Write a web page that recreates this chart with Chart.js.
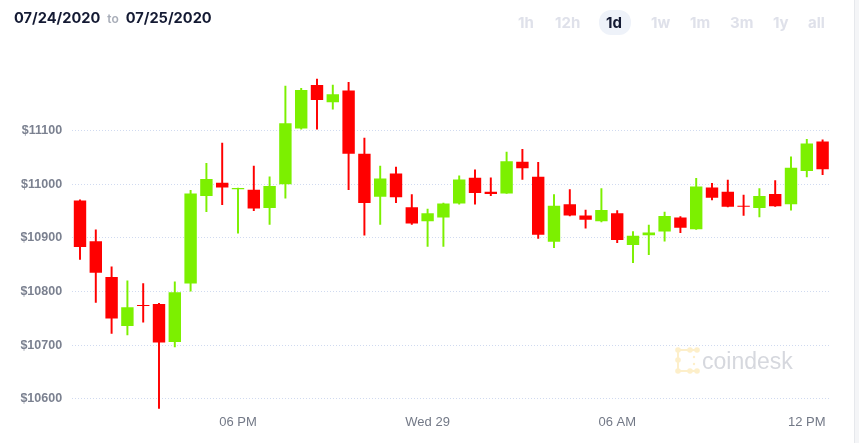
<!DOCTYPE html>
<html>
<head>
<meta charset="utf-8">
<script src="https://cdn.jsdelivr.net/npm/chart.js@4/dist/chart.umd.min.js"></script>
<style>
  html, body { margin: 0; padding: 0; background: #fff; }
  #wrap { position: relative; width: 859px; height: 443px; overflow: hidden; }
  #c { position: absolute; left: 0; top: 0; }
  .hdr { position: absolute; left: 14px; top: 9px; font-family: Inter, sans-serif; font-weight: 700; font-size: 14.6px; color: #141a33; white-space: nowrap; }
  .hdr .to { font-size: 12px; font-weight: 600; color: #a8adb8; margin: 0 7px 0 7px; }
  .btn { position: absolute; top: 14px; font-family: Inter, sans-serif; font-weight: 700; font-size: 15px; color: #dfe1ea; line-height: 18px; }
  .btn.sel { color: #141a33; }
  .pill { position: absolute; left: 599px; top: 10px; width: 32px; height: 25px; border-radius: 12px; background: #eef2f9; }
  .edge { position: absolute; left: 854px; top: 0; width: 5px; height: 443px; background: #f4f5f7; border-left: 1px solid #e6e8ec; }
</style>
</head>
<body>
<div id="wrap">
  <canvas id="c" width="859" height="443"></canvas>
  <div class="hdr">07/24/2020<span class="to">to</span>07/25/2020</div>
  <div class="pill"></div>
  <div class="btn" style="left:518px">1h</div>
  <div class="btn" style="left:555px">12h</div>
  <div class="btn sel" style="left:606px">1d</div>
  <div class="btn" style="left:651px">1w</div>
  <div class="btn" style="left:690px">1m</div>
  <div class="btn" style="left:730px">3m</div>
  <div class="btn" style="left:773px">1y</div>
  <div class="btn" style="left:808px">all</div>
  <div class="edge"></div>
</div>
<script>
// ---- data ----
const categories = [
  '13:00','13:30','14:00','14:30','15:00','15:30','16:00','16:30','17:00','17:30',
  '18:00','18:30','19:00','19:30','20:00','20:30','21:00','21:30','22:00','22:30',
  '23:00','23:30','00:00','00:30','01:00','01:30','02:00','02:30','03:00','03:30',
  '04:00','04:30','05:00','05:30','06:00','06:30','07:00','07:30','08:00','08:30',
  '09:00','09:30','10:00','10:30','11:00','11:30','12:00','12:30'
];
const openPrices = [
  10970,10894,10827,10736,10775,10777,10706,10815,10978,11003,
  10991,10990,10956,11000,11104,11185,11153,11175,11057,10977,
  11020,10957,10931,10938,10964,11012,10986,10983,11042,11014,
  10893,10963,10942,10931,10946,10887,10905,10912,10938,10916,
  10994,10986,10959,10956,10982,10963,11025,11080
];
const highPrices = [
  10971,10915,10846,10820,10815,10778,10818,10989,11039,11077,
  10993,11034,11014,11183,11179,11196,11185,11190,11086,11034,
  11032,10981,10954,10965,11016,11027,11012,11060,11065,11041,
  10981,10990,10952,10992,10951,10912,10924,10948,10940,11011,
  11002,11008,10980,10992,11007,11051,11084,11083
];
const lowPrices = [
  10860,10780,10722,10719,10743,10582,10697,10801,10949,10962,
  10909,10951,10925,10974,11103,11103,11140,10990,10905,10925,
  10966,10925,10884,10884,10963,10963,10979,10983,11009,10899,
  10882,10941,10918,10930,10891,10854,10869,10894,10910,10916,
  10971,10958,10942,10939,10959,10952,11014,11018
];
const closePrices = [
  10883,10835,10750,10771,10773,10705,10799,10983,11010,10994,
  10993,10955,10997,11114,11176,11157,11168,11057,10965,11011,
  10976,10927,10946,10964,11009,10984,10982,11043,11030,10906,
  10960,10942,10934,10952,10896,10904,10910,10941,10919,10996,
  10975,10958,10958,10978,10959,11031,11076,11028
];
const xTickAt = ['18:00','00:00','06:00','12:00'];
const xTickText = ['06 PM','Wed 29','06 AM','12 PM'];
const yTicks = [10600,10700,10800,10900,11000,11100];

// ---- styling ----
const UP = 'rgb(124,240,0)';
const DOWN = 'rgb(255,0,0)';
const colors = categories.map((_, i) => closePrices[i] >= openPrices[i] ? UP : DOWN);
const bodies = categories.map((_, i) => [openPrices[i], closePrices[i]]);
const wicks = categories.map((_, i) => [lowPrices[i], highPrices[i]]);

const watermark = {
  id: 'watermark',
  beforeDatasetsDraw(chart) {
    const ctx = chart.ctx;
    ctx.save();
    ctx.strokeStyle = '#fdefca';
    ctx.fillStyle = '#fdefca';
    ctx.lineWidth = 2;
    ctx.beginPath();
    ctx.moveTo(697, 350); ctx.lineTo(678, 350); ctx.lineTo(678, 371); ctx.lineTo(697, 371);
    ctx.stroke();
    [[678,350],[690,350],[697,350],[678,360],[678,371],[690,371],[697,371]].forEach(p => {
      ctx.beginPath(); ctx.arc(p[0], p[1], 2.8, 0, Math.PI * 2); ctx.fill();
    });
    [[694,357],[694,364]].forEach(p => {
      ctx.beginPath(); ctx.arc(p[0], p[1], 1.2, 0, Math.PI * 2); ctx.fill();
    });
    ctx.fillStyle = '#d6d8de';
    ctx.font = '23px "Liberation Sans", Arial, sans-serif';
    ctx.textBaseline = 'alphabetic';
    ctx.fillText('coindesk', 702, 369);
    ctx.restore();
  }
};

new Chart(document.getElementById('c'), {
  type: 'bar',
  data: {
    labels: categories,
    datasets: [
      {
        label: 'wick',
        data: wicks,
        backgroundColor: colors,
        barThickness: 1.3,
        grouped: false,
        order: 2
      },
      {
        label: 'body',
        data: bodies,
        backgroundColor: colors,
        barPercentage: 0.785,
        categoryPercentage: 1,
        grouped: false,
        minBarLength: 1,
        order: 1
      }
    ]
  },
  options: {
    responsive: false,
    animation: false,
    events: [],
    layout: { padding: { top: 66.3, right: 28.5, left: 0, bottom: 0 } },
    plugins: { legend: { display: false }, tooltip: { enabled: false } },
    scales: {
      x: {
        type: 'category',
        offset: true,
        grid: { display: false, drawTicks: false },
        border: { display: false },
        afterFit(scale) { scale.height = 443 - 409.6; },
        ticks: {
          autoSkip: false,
          maxRotation: 0,
          padding: 5,
          color: '#737987',
          font: { family: '"Liberation Sans", Arial, sans-serif', size: 13 },
          callback(value) {
            const k = xTickAt.indexOf(categories[value]);
            return k >= 0 ? xTickText[k] : null;
          }
        }
      },
      y: {
        type: 'linear',
        min: 10580,
        max: 11220,
        z: 1,
        afterFit(scale) { scale.width = 72.1; },
        afterBuildTicks(scale) { scale.ticks = yTicks.map(v => ({ value: v })); },
        grid: { color: 'rgb(208,218,240)', lineWidth: 1, drawTicks: false },
        border: { display: false, dash: [1, 2] },
        ticks: {
          padding: 10,
          color: '#7b8190',
          font: { family: '"Liberation Sans", Arial, sans-serif', size: 12.5, weight: 'bold' },
          callback(v) { return '$' + v; }
        }
      }
    }
  },
  plugins: [watermark]
});
</script>
</body>
</html>
